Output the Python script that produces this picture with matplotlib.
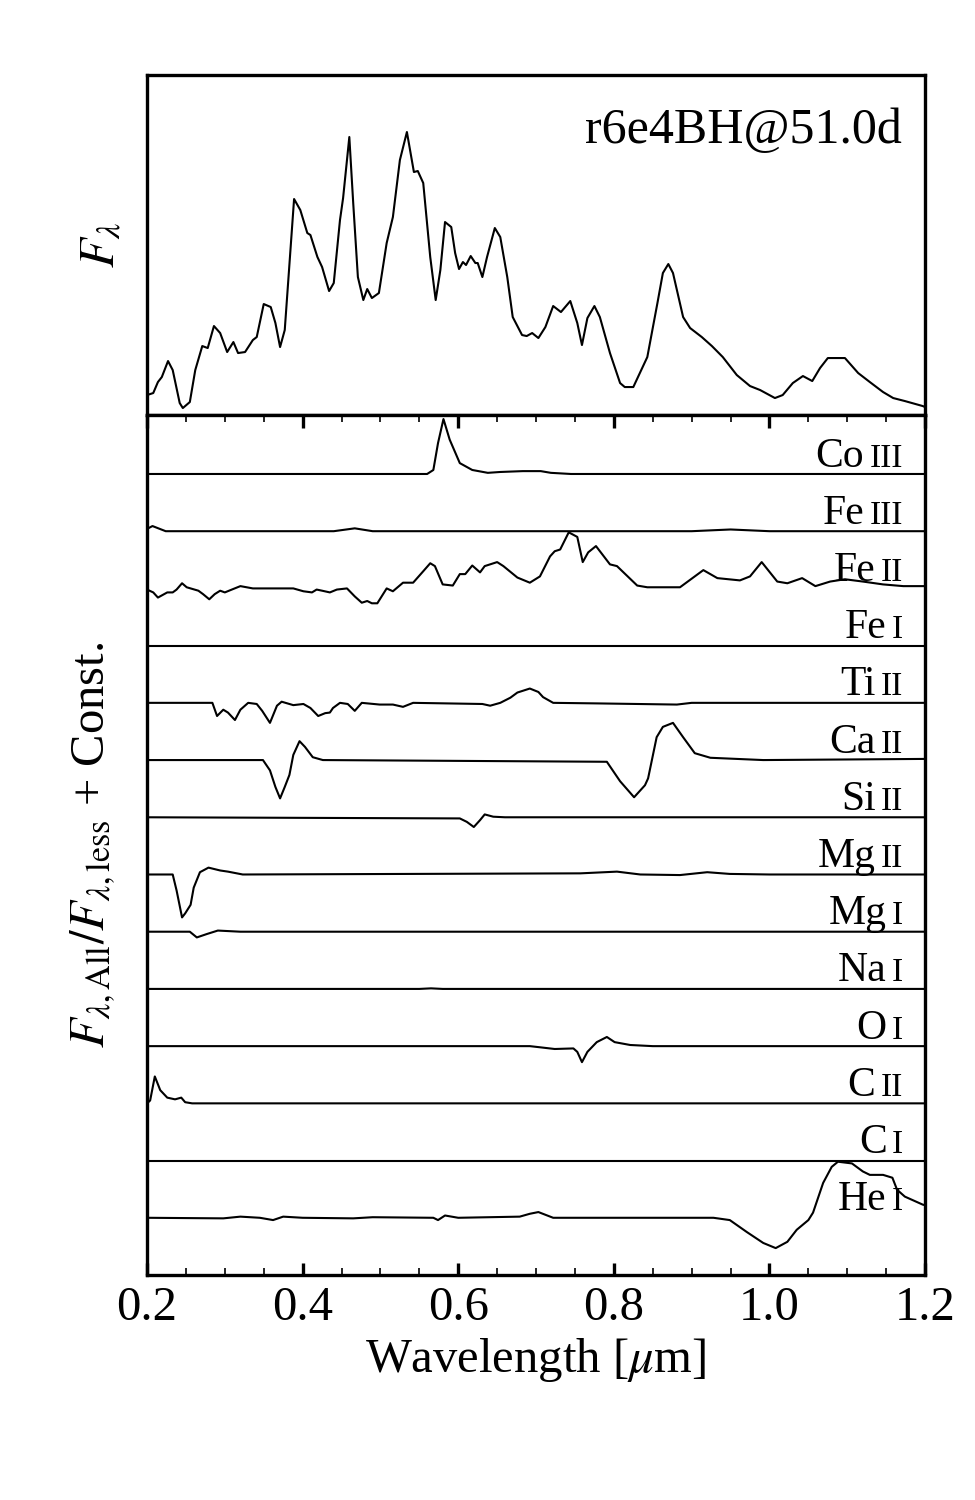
import matplotlib.pyplot as plt

plt.rcParams['font.family'] = ['Liberation Serif', 'DejaVu Serif']
plt.rcParams['mathtext.fontset'] = 'stix'

# total spectrum (arbitrary units)
spec_wl = [0.200, 0.208, 0.214, 0.219, 0.227, 0.233, 0.242, 0.246, 0.255, 0.262,
           0.271, 0.278, 0.286, 0.294, 0.303, 0.311, 0.317, 0.326, 0.336, 0.341,
           0.350, 0.359, 0.365, 0.371, 0.377, 0.389, 0.397, 0.406, 0.410, 0.419,
           0.425, 0.434, 0.440, 0.448, 0.452, 0.460, 0.465, 0.471, 0.478, 0.483,
           0.489, 0.498, 0.508, 0.516, 0.525, 0.534, 0.543, 0.548, 0.555, 0.564,
           0.571, 0.577, 0.583, 0.591, 0.596, 0.601, 0.606, 0.610, 0.616, 0.622,
           0.625, 0.631, 0.637, 0.647, 0.654, 0.663, 0.670, 0.682, 0.688, 0.695,
           0.703, 0.712, 0.722, 0.732, 0.744, 0.753, 0.759, 0.766, 0.775, 0.782,
           0.795, 0.808, 0.814, 0.825, 0.834, 0.843, 0.856, 0.863, 0.870, 0.876,
           0.889, 0.898, 0.913, 0.926, 0.940, 0.958, 0.975, 0.988, 1.007, 1.017,
           1.030, 1.043, 1.055, 1.065, 1.075, 1.097, 1.114, 1.129, 1.146, 1.159,
           1.174, 1.197, 1.200]
spec_flux = [20, 22, 33, 38, 54, 45, 12, 7, 13, 45,
             69, 67, 89, 82, 63, 73, 62, 63, 75, 78,
             111, 108, 92, 68, 85, 216, 205, 182, 180, 158,
             148, 124, 132, 195, 217, 278, 212, 138, 115, 126,
             117, 122, 172, 198, 255, 283, 243, 244, 232, 158,
             115, 145, 193, 188, 162, 146, 153, 150, 159, 152,
             152, 138, 158, 187, 178, 138, 98, 80, 79, 82,
             77, 88, 109, 103, 114, 92, 70, 97, 109, 98,
             62, 32, 28, 28, 43, 58, 112, 142, 151, 142,
             98, 87, 78, 69, 58, 40, 29, 25, 17, 20,
             32, 39, 34, 47, 57, 57, 42, 33, 23, 17,
             14, 9, 8]

# flux ratio minus one, per ion
coiii_wl = [0.200, 0.560, 0.568, 0.574, 0.581, 0.589, 0.602, 0.618, 0.638, 0.654, 0.683, 0.706, 0.719, 0.745, 1.200]
coiii_dev = [0, 0, 0.07, 0.54, 0.96, 0.60, 0.19, 0.07, 0.02, 0.035, 0.05, 0.05, 0.02, 0, 0]

feiii_wl = [0.200, 0.207, 0.224, 0.440, 0.467, 0.490, 0.900, 0.950, 1.000, 1.200]
feiii_dev = [0.04, 0.09, 0, 0, 0.05, 0, 0, 0.03, 0, 0]

feii_wl = [0.200, 0.208, 0.214, 0.226, 0.233, 0.238, 0.245, 0.251, 0.266, 0.272,
           0.280, 0.287, 0.294, 0.300, 0.309, 0.320, 0.336, 0.388, 0.401, 0.412,
           0.418, 0.425, 0.435, 0.444, 0.457, 0.467, 0.476, 0.483, 0.489, 0.496,
           0.508, 0.516, 0.529, 0.542, 0.555, 0.564, 0.570, 0.580, 0.593, 0.602,
           0.609, 0.618, 0.628, 0.634, 0.650, 0.658, 0.676, 0.692, 0.705, 0.718,
           0.724, 0.731, 0.742, 0.753, 0.760, 0.767, 0.777, 0.795, 0.804, 0.830,
           0.843, 0.885, 0.915, 0.933, 0.962, 0.975, 0.990, 1.010, 1.023, 1.042,
           1.059, 1.078, 1.097, 1.120, 1.146, 1.172, 1.200]
feii_dev = [-0.02, -0.07, -0.16, -0.07, -0.07, -0.02, 0.09, 0.02, -0.04, -0.10,
            -0.19, -0.10, -0.04, -0.07, -0.02, 0.04, 0, 0, -0.05, -0.07,
            -0.02, -0.04, -0.07, -0.02, 0, -0.14, -0.25, -0.22, -0.26, -0.26,
            0, -0.05, 0.10, 0.10, 0.30, 0.44, 0.39, 0.07, 0.05, 0.25,
            0.25, 0.40, 0.28, 0.39, 0.46, 0.39, 0.19, 0.10, 0.21, 0.56,
            0.65, 0.68, 0.98, 0.90, 0.46, 0.63, 0.74, 0.42, 0.39, 0.05,
            0.02, 0.02, 0.32, 0.18, 0.14, 0.21, 0.46, 0.12, 0.09, 0.18,
            0.04, 0.12, 0.16, 0.12, 0.07, 0.04, 0.04]

fei_wl = [0.200, 1.200]
fei_dev = [0, 0]

tiii_wl = [0.200, 0.284, 0.290, 0.298, 0.304, 0.313, 0.320, 0.330, 0.341, 0.348,
           0.358, 0.367, 0.373, 0.388, 0.401, 0.410, 0.420, 0.429, 0.435, 0.439,
           0.448, 0.458, 0.467, 0.476, 0.499, 0.516, 0.529, 0.542, 0.631, 0.641,
           0.654, 0.667, 0.676, 0.692, 0.703, 0.709, 0.722, 0.780, 0.881, 0.900, 1.200]
tiii_dev = [0, 0, -0.23, -0.12, -0.17, -0.30, -0.12, 0, -0.02, -0.14,
            -0.35, -0.05, 0.02, -0.04, -0.02, -0.09, -0.23, -0.18, -0.17, -0.09,
            0, -0.02, -0.14, 0, -0.03, -0.03, -0.07, 0, -0.02, -0.05,
            0, 0.09, 0.18, 0.25, 0.19, 0.10, 0, -0.01, -0.03, 0, 0]

caii_wl = [0.200, 0.349, 0.358, 0.365, 0.371, 0.377, 0.383, 0.388, 0.396, 0.403,
           0.413, 0.426, 0.791, 0.808, 0.826, 0.840, 0.844, 0.855, 0.863, 0.876,
           0.889, 0.904, 0.924, 0.992, 1.200]
caii_dev = [0, 0, -0.18, -0.47, -0.67, -0.47, -0.26, 0.09, 0.33, 0.23,
            0.05, 0, -0.03, -0.37, -0.65, -0.44, -0.32, 0.40, 0.58, 0.65,
            0.40, 0.12, 0.04, 0, 0.02]

siii_wl = [0.200, 0.602, 0.611, 0.620, 0.628, 0.634, 0.645, 0.660, 1.200]
siii_dev = [0, -0.02, -0.08, -0.17, -0.05, 0.05, 0.01, 0, 0]

mgii_wl = [0.200, 0.233, 0.238, 0.245, 0.249, 0.256, 0.260, 0.268, 0.279, 0.294,
           0.304, 0.323, 0.757, 0.804, 0.834, 0.885, 0.920, 0.949, 1.000, 1.200]
mgii_dev = [0, 0, -0.28, -0.75, -0.68, -0.53, -0.23, 0.04, 0.12, 0.07,
            0.05, 0, 0.02, 0.05, 0, -0.01, 0.04, 0.01, 0, 0]

mgi_wl = [0.200, 0.255, 0.264, 0.277, 0.291, 0.320, 1.200]
mgi_dev = [0, 0, -0.10, -0.04, 0.02, 0, 0]

nai_wl = [0.200, 0.550, 0.565, 0.580, 1.200]
nai_dev = [0, 0, 0.01, 0, 0]

oi_wl = [0.200, 0.692, 0.705, 0.724, 0.748, 0.753, 0.759, 0.766, 0.778, 0.791,
         0.801, 0.821, 0.850, 1.200]
oi_dev = [0, 0, -0.02, -0.05, -0.04, -0.10, -0.28, -0.10, 0.07, 0.16,
          0.07, 0.02, 0, 0]

cii_wl = [0.200, 0.204, 0.210, 0.217, 0.226, 0.236, 0.244, 0.249, 0.258, 1.200]
cii_dev = [0, 0.05, 0.47, 0.23, 0.10, 0.07, 0.10, 0.02, 0, 0]

ci_wl = [0.200, 1.200]
ci_dev = [0, 0]

hei_wl = [0.200, 0.298, 0.320, 0.345, 0.362, 0.375, 0.400, 0.465, 0.490, 0.568,
          0.574, 0.583, 0.600, 0.679, 0.692, 0.703, 0.722, 0.928, 0.949, 0.971,
          0.992, 1.008, 1.023, 1.035, 1.050, 1.056, 1.069, 1.080, 1.088, 1.106,
          1.120, 1.129, 1.146, 1.158, 1.164, 1.174, 1.197, 1.200]
hei_dev = [0, -0.01, 0.02, 0, -0.04, 0.02, 0, -0.01, 0.01, 0,
           -0.04, 0.04, 0, 0.02, 0.07, 0.10, 0, 0, -0.04, -0.25,
           -0.44, -0.53, -0.42, -0.21, -0.04, 0.09, 0.61, 0.89, 0.98, 0.95,
           0.81, 0.75, 0.75, 0.70, 0.49, 0.37, 0.23, 0.22]

# top to bottom order
ions = ['Co', 'Fe', 'Fe', 'Fe', 'Ti', 'Ca', 'Si', 'Mg', 'Mg', 'Na', 'O', 'C', 'C', 'He']
stages = ['III', 'III', 'II', 'I', 'II', 'II', 'II', 'II', 'I', 'I', 'I', 'II', 'I', 'I']
ion_wl = [coiii_wl, feiii_wl, feii_wl, fei_wl, tiii_wl, caii_wl, siii_wl,
          mgii_wl, mgi_wl, nai_wl, oi_wl, cii_wl, ci_wl, hei_wl]
ion_dev = [coiii_dev, feiii_dev, feii_dev, fei_dev, tiii_dev, caii_dev, siii_dev,
           mgii_dev, mgi_dev, nai_dev, oi_dev, cii_dev, ci_dev, hei_dev]

fig = plt.figure(figsize=(9.75, 15), dpi=100)
ax1 = fig.add_axes([0.1508, 0.7233, 0.798, 0.2267])
ax2 = fig.add_axes([0.1508, 0.15, 0.798, 0.5733])

for ax in (ax1, ax2):
    for s in ax.spines.values():
        s.set_linewidth(2.4)

# top panel: total spectrum
ax1.plot(spec_wl, spec_flux, color='k', lw=1.5)
ax1.set_xlim(0.2, 1.2)
ax1.set_ylim(0, 340)
ax1.set_xticks([])
ax1.set_yticks([])
ax1.set_ylabel(r'$F_{\lambda}$', fontsize=35)
ax1.yaxis.set_label_coords(-0.03, 0.5)
ax1.text(0.97, 0.80, 'r6e4BH@51.0d', transform=ax1.transAxes,
         ha='right', va='baseline', fontsize=36)

# bottom panel: ratios with offsets, labelled "element + stage"
n = len(ions)
for i in range(n):
    off = n - 1 - i
    ax2.plot(ion_wl[i], [d + off for d in ion_dev[i]], color='k', lw=1.5)
    st = ax2.text(1.172, off + 0.13, stages[i], ha='right', va='baseline', fontsize=24)
    ax2.annotate(ions[i], xy=(0, off + 0.13), xycoords=(st, 'data'),
                 xytext=(-4, 0), textcoords='offset points',
                 ha='right', va='baseline', fontsize=30)

ax2.set_xlim(0.2, 1.2)
ax2.set_ylim(-1.0, 14.03)
ax2.set_yticks([])
ax2.set_xticks([0.2, 0.4, 0.6, 0.8, 1.0, 1.2])
ax2.set_xticklabels(['0.2', '0.4', '0.6', '0.8', '1.0', '1.2'])
ax2.set_xticks([0.25, 0.3, 0.35, 0.45, 0.5, 0.55, 0.65, 0.7, 0.75, 0.85, 0.9,
                0.95, 1.05, 1.1, 1.15], minor=True)
ax2.tick_params(axis='x', which='both', direction='in', top=True, bottom=True)
ax2.tick_params(axis='x', which='major', length=9, width=2.4, labelsize=35, pad=8)
ax2.tick_params(axis='x', which='minor', length=5, width=1.2)
ax2.set_xlabel(r'Wavelength [$\mu$m]', fontsize=35, labelpad=4)
ax2.set_ylabel(r'$F_{\lambda,\mathrm{All}}/F_{\lambda,\mathrm{less}}$ + Const.', fontsize=35)
ax2.yaxis.set_label_coords(-0.037, 0.5)

fig.savefig('out.png', dpi=100)
